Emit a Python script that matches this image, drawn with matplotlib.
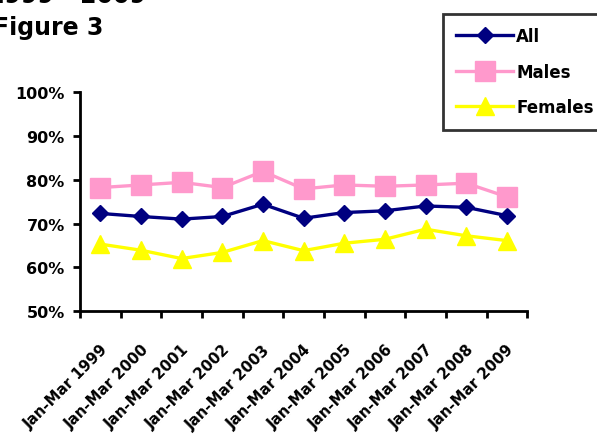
import matplotlib
matplotlib.use("Agg")
import matplotlib.pyplot as plt
from matplotlib.ticker import FixedLocator, PercentFormatter

plt.rcParams['font.family'] = ['DejaVu Sans']
plt.rcParams['font.weight'] = 'bold'

periods = ["Jan-Mar 1999", "Jan-Mar 2000", "Jan-Mar 2001", "Jan-Mar 2002",
           "Jan-Mar 2003", "Jan-Mar 2004", "Jan-Mar 2005", "Jan-Mar 2006",
           "Jan-Mar 2007", "Jan-Mar 2008", "Jan-Mar 2009"]
all_pct = [72.3, 71.6, 71.0, 71.6, 74.4, 71.2, 72.5, 72.9, 74.0, 73.7, 71.8]
males_pct = [78.2, 78.8, 79.4, 78.2, 81.9, 77.9, 78.8, 78.5, 78.8, 79.2, 76.1]
females_pct = [65.3, 63.9, 62.0, 63.4, 66.1, 63.8, 65.5, 66.4, 68.7, 67.2, 66.1]

fig = plt.figure(figsize=(5.97, 4.39), dpi=100)
ax = fig.add_axes([0.134, 0.289, 0.749, 0.499])

x = range(len(periods))
ax.plot(x, all_pct, color="#000080", lw=2.4, marker="D", ms=8.5, label="All")
ax.plot(x, males_pct, color="#FF99CC", lw=2.4, marker="s", ms=14, label="Males")
ax.plot(x, females_pct, color="#FFFF00", lw=2.4, marker="^", ms=13, label="Females")

ax.set_xlim(-0.5, len(periods) - 0.5)
ax.set_ylim(50, 100)
ax.set_yticks([50, 60, 70, 80, 90, 100])
ax.yaxis.set_major_formatter(PercentFormatter(decimals=0))

ax.set_xticks(list(x))
ax.set_xticklabels(periods, rotation=45, ha="right", rotation_mode="anchor", fontsize=10.8)
ax.tick_params(axis="x", which="major", length=0, pad=22)
ax.xaxis.set_minor_locator(FixedLocator([i - 0.5 for i in range(len(periods) + 1)]))
ax.tick_params(axis="x", which="minor", length=5, width=2, direction="out")
ax.tick_params(axis="y", length=5, width=2, direction="out", labelsize=11.5, pad=6)

for s in ["top", "right"]:
    ax.spines[s].set_visible(False)
for s in ["left", "bottom"]:
    ax.spines[s].set_linewidth(2)

leg = fig.legend(loc="upper left", bbox_to_anchor=(0.742, 0.966), fontsize=12,
                 frameon=True, fancybox=False, edgecolor="black",
                 handlelength=3.4, handletextpad=0.2, labelspacing=1.05,
                 borderpad=0.8, borderaxespad=0)
leg.get_frame().set_linewidth(2)

fig.text(-0.02, 1.008, "1999 - 2009", fontsize=17, fontweight="bold", va="center")
fig.text(-0.012, 0.937, "Figure 3", fontsize=17, fontweight="bold", va="center")

fig.savefig("out.png", dpi=100)
